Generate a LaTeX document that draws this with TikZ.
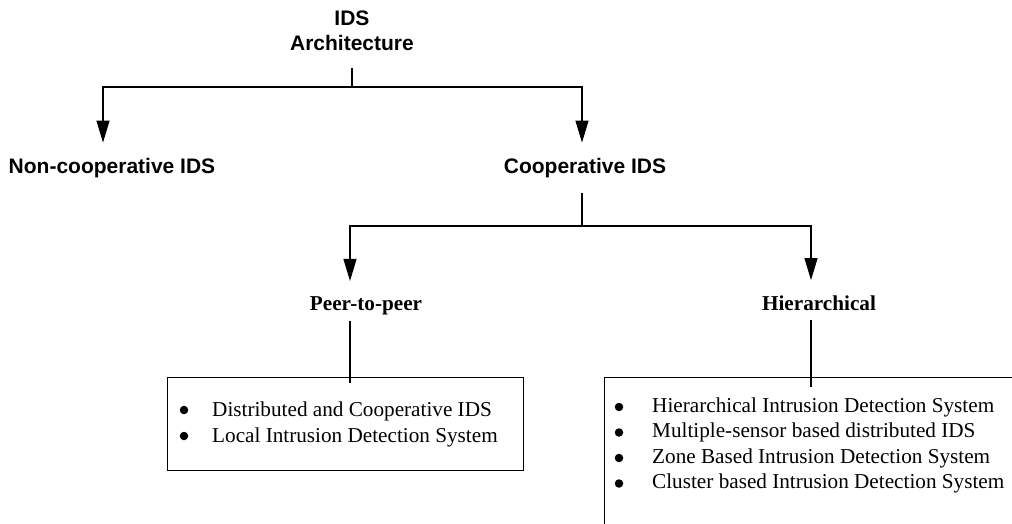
\documentclass[tikz,border=0pt]{standalone}
\usepackage{fontspec}
\setmainfont{Liberation Serif}
\setsansfont{Liberation Sans}
\usetikzlibrary{arrows.meta}
\begin{document}
\begin{tikzpicture}[x=1pt,y=-1pt,
  wire/.style={line width=1.2pt, black},
  arr/.style={wire, -{Triangle[length=22pt,width=13pt]}},
  head/.style={font=\fontsize{21}{25}\selectfont\sffamily\bfseries, inner sep=0pt, anchor=base},
  sub/.style={font=\fontsize{21.2}{25}\selectfont\bfseries, inner sep=0pt, anchor=base},
  item/.style={font=\fontsize{21.2}{25}\selectfont, inner sep=0pt, anchor=base west},
  dot/.style={circle, fill=black, inner sep=0pt, minimum size=8.5pt},
  listbox/.style={draw, line width=1.1pt, rectangle, inner sep=0pt, anchor=north west}
]
\useasboundingbox (0,0) rectangle (1012,523);
\clip (0,0) rectangle (1012,523);

% root
\node[head, anchor=north, align=center] (ids) at (352,11) {IDS\\Architecture};

% first level
\node[head] (noncoop) at (112,173) {Non-cooperative IDS};
\node[head] (coop) at (585,173) {Cooperative IDS};

% second level
\node[sub] (peer) at (366,310) {Peer-to-peer};
\node[sub] (hier) at (819,310) {Hierarchical};

% list boxes
\node[listbox, minimum width=356pt, minimum height=93pt] (lbox) at (167,377) {};
\node[listbox, minimum width=430pt, minimum height=170pt] (rbox) at (604,377) {};

% branch points
\coordinate (j0) at (352,87);
\coordinate (j1) at (582,226);

% root to first level
\draw[wire] ([yshift=-17pt]ids.south) -- (j0);
\draw[arr] (j0) -| ([xshift=-9pt,yshift=15pt]noncoop.north);
\draw[arr] (j0) -| ([xshift=-3pt,yshift=15pt]coop.north);

% cooperative to second level
\draw[wire] ([xshift=-3pt,yshift=-15pt]coop.south) -- (j1);
\draw[arr] (j1) -| ([xshift=-16pt,yshift=15pt]peer.north);
\draw[arr] (j1) -| ([xshift=-8pt,yshift=15pt]hier.north);

% second level to lists
\draw[wire] ([xshift=-16pt,yshift=-6pt]peer.south) -- ([xshift=-16pt,yshift=-6pt]peer.south |- lbox.north);
\draw[wire] ([xshift=-8pt,yshift=-10pt]hier.south) -- ([xshift=-8pt,yshift=-10pt]hier.south |- rbox.north);

% peer-to-peer list
\node[dot] (ld1) at (184,410) {};
\node[dot] (ld2) at (184,436) {};
\node[item] (li1) at (212,416) {Distributed and Cooperative IDS};
\node[item] (li2) at (212,442) {Local Intrusion Detection System};

% hierarchical list
\node[dot] (rd1) at (619,407) {};
\node[dot] (rd2) at (619,432.5) {};
\node[dot] (rd3) at (619,458) {};
\node[dot] (rd4) at (619,483.5) {};
\node[item] (ri1) at (652,412) {Hierarchical Intrusion Detection System};
\node[item] (ri2) at (652,437.5) {Multiple-sensor based distributed IDS};
\node[item] (ri3) at (652,463) {Zone Based Intrusion Detection System};
\node[item] (ri4) at (652,488.5) {Cluster based Intrusion Detection System};
\end{tikzpicture}
\end{document}
